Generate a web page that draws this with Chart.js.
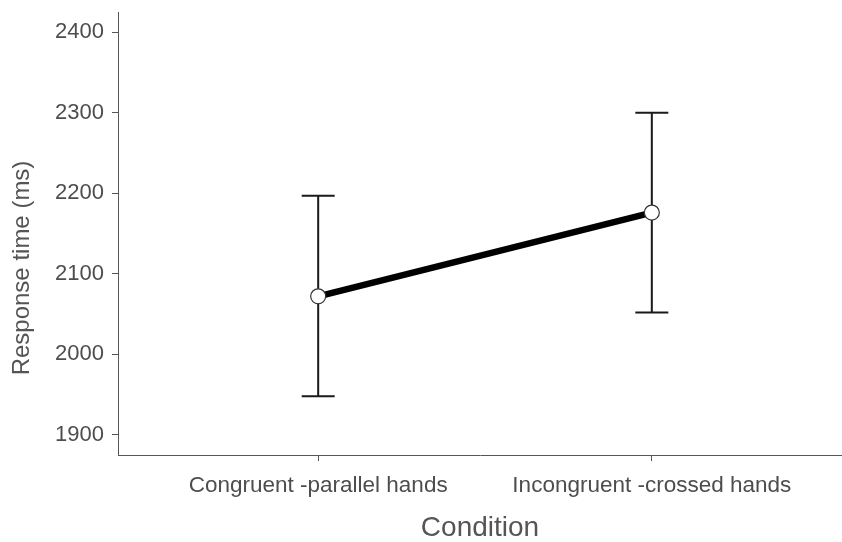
<!DOCTYPE html>
<html>
<head>
<meta charset="utf-8">
<script src="https://cdn.jsdelivr.net/npm/chart.js@4.4.1/dist/chart.umd.min.js"></script>
<style>
  html, body { margin: 0; padding: 0; background: #ffffff; }
  #wrap { width: 842px; height: 542px; position: relative; }
</style>
</head>
<body>
<div id="wrap"><canvas id="c" width="842" height="542"></canvas></div>
<script>
// ---- data ----
const categories = ['Congruent -parallel hands', 'Incongruent -crossed hands'];
const categoryPos = [1, 2];
const meanRT = [2072, 2176];
const ciLow = [1948, 2052];
const ciHigh = [2197, 2300];
const yTicks = [1900, 2000, 2100, 2200, 2300, 2400];
const yTitle = 'Response time (ms)';
const xTitle = 'Condition';

const points = categoryPos.map((x, i) => ({ x: x, y: meanRT[i] }));

const errorBars = {
  id: 'errorBars',
  beforeDatasetsDraw(chart) {
    const { ctx, scales } = chart;
    const xs = scales.x, ys = scales.y;
    ctx.save();
    ctx.strokeStyle = '#1a1a1a';
    ctx.lineWidth = 2;
    categoryPos.forEach((c, i) => {
      const px = xs.getPixelForValue(c);
      const top = ys.getPixelForValue(ciHigh[i]);
      const bot = ys.getPixelForValue(ciLow[i]);
      const hw = 16.5;
      ctx.beginPath();
      ctx.moveTo(px, top); ctx.lineTo(px, bot);
      ctx.moveTo(px - hw, top); ctx.lineTo(px + hw, top);
      ctx.moveTo(px - hw, bot); ctx.lineTo(px + hw, bot);
      ctx.stroke();
    });
    ctx.restore();
  },
  afterDraw(chart) {
    const { ctx } = chart;
    ctx.save();
    ctx.fillStyle = '#555555';
    ctx.font = '24px "Liberation Sans", Arial, sans-serif';
    ctx.textAlign = 'center';
    ctx.textBaseline = 'middle';
    ctx.translate(22, 268);
    ctx.rotate(-Math.PI / 2);
    ctx.fillText(yTitle, 0, 0);
    ctx.restore();
  }
};

new Chart(document.getElementById('c'), {
  type: 'line',
  data: {
    datasets: [{
      data: points,
      borderColor: '#000000',
      borderWidth: 6.5,
      pointRadius: 7.5,
      pointHoverRadius: 7.5,
      pointBackgroundColor: '#ffffff',
      pointBorderColor: '#333333',
      pointBorderWidth: 1.2,
      tension: 0,
      fill: false
    }]
  },
  options: {
    responsive: false,
    animation: false,
    layout: { autoPadding: false, padding: { top: 12, right: 0, left: 0, bottom: 0 } },
    plugins: { legend: { display: false }, tooltip: { enabled: false } },
    scales: {
      x: {
        type: 'linear',
        min: 0.4,
        max: 2.57,
        afterBuildTicks(axis) { axis.ticks = categoryPos.map(v => ({ value: v })); },
        ticks: {
          callback: (v) => categories[categoryPos.indexOf(v)] || '',
          color: '#4d4d4d',
          font: { family: '"Liberation Sans", Arial, sans-serif', size: 22.5 },
          padding: 11,
          maxRotation: 0,
          autoSkip: false
        },
        grid: { display: true, drawOnChartArea: false, drawTicks: true, tickLength: 6, color: '#555555' },
        border: { display: true, color: '#555555', width: 1 },
        title: {
          display: true, text: xTitle, color: '#555555',
          font: { family: '"Liberation Sans", Arial, sans-serif', size: 28 },
          padding: { top: 4, bottom: -3 }
        },
        afterFit(axis) { axis.height = 87; axis.paddingLeft = 0; axis.paddingRight = 0; }
      },
      y: {
        type: 'linear',
        min: 1875,
        max: 2425,
        afterBuildTicks(axis) { axis.ticks = yTicks.map(v => ({ value: v })); },
        ticks: {
          callback: (v) => String(v),
          color: '#4d4d4d',
          font: { family: '"Liberation Sans", Arial, sans-serif', size: 22 },
          padding: 8
        },
        grid: { display: true, drawOnChartArea: false, drawTicks: true, tickLength: 6, color: '#555555' },
        border: { display: true, color: '#555555', width: 1 },
        afterFit(axis) { axis.width = 118; axis.paddingTop = 0; axis.paddingBottom = 0; }
      }
    }
  },
  plugins: [errorBars]
});
</script>
</body>
</html>
